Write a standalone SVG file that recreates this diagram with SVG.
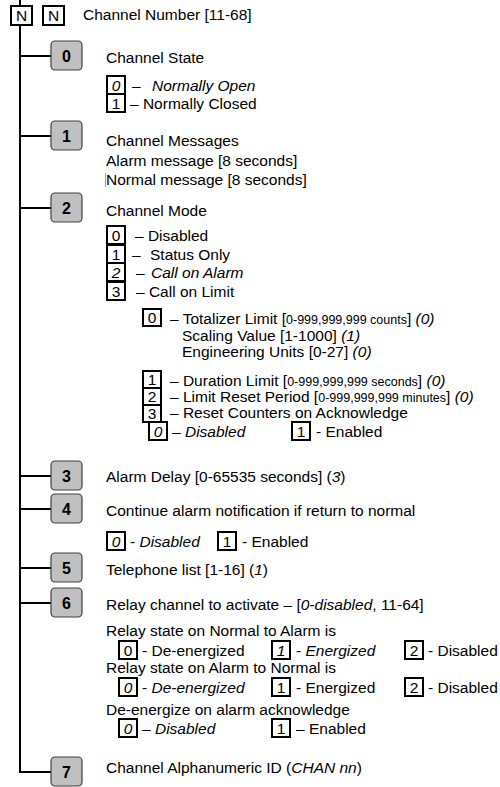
<svg xmlns="http://www.w3.org/2000/svg" width="500" height="787" viewBox="0 0 500 787">
<style>
text{font-family:"Liberation Sans",Arial,sans-serif;font-size:15.5px;fill:#000}
.i{font-style:italic}
.s{font-size:12.5px}
.nd rect{fill:#c0c0c0;stroke:#404040;stroke-width:1.2}
.nd text{font-weight:bold;font-size:16px;text-anchor:middle}
.b{fill:#fff;stroke:#000;stroke-width:2}
.bt{text-anchor:middle}
.c{stroke:#000;stroke-width:2;fill:none}
</style>
<g id="connectors">
<line class="c" x1="20" y1="0" x2="20" y2="773"/>
<line class="c" x1="19" y1="56" x2="51" y2="56"/>
<line class="c" x1="19" y1="136" x2="51" y2="136"/>
<line class="c" x1="19" y1="208" x2="51" y2="208"/>
<line class="c" x1="19" y1="476" x2="51" y2="476"/>
<line class="c" x1="19" y1="509" x2="51" y2="509"/>
<line class="c" x1="19" y1="568" x2="51" y2="568"/>
<line class="c" x1="19" y1="603" x2="51" y2="603"/>
<line class="c" x1="19" y1="772" x2="51" y2="772"/>
</g>
<g id="header">
<rect class="b" x="11" y="6" width="21" height="19"/><text class="bt" x="21.5" y="21">N</text>
<rect class="b" x="43" y="6" width="21" height="19"/><text class="bt" x="53.5" y="21">N</text>
<text x="83" y="20">Channel Number [11-68]</text>
</g>
<g id="node0" class="nd"><rect x="51" y="41" width="31" height="29" rx="4"/><text x="66.5" y="62">0</text></g>
<g id="node1" class="nd"><rect x="51" y="121" width="31" height="29" rx="4"/><text x="66.5" y="142">1</text></g>
<g id="node2" class="nd"><rect x="51" y="193" width="31" height="29" rx="4"/><text x="66.5" y="214">2</text></g>
<g id="node3" class="nd"><rect x="51" y="461" width="31" height="29" rx="4"/><text x="66.5" y="482">3</text></g>
<g id="node4" class="nd"><rect x="51" y="494" width="31" height="29" rx="4"/><text x="66.5" y="515">4</text></g>
<g id="node5" class="nd"><rect x="51" y="553" width="31" height="29" rx="4"/><text x="66.5" y="574">5</text></g>
<g id="node6" class="nd"><rect x="51" y="588" width="31" height="29" rx="4"/><text x="66.5" y="609">6</text></g>
<g id="node7" class="nd"><rect x="51" y="757" width="31" height="29" rx="4"/><text x="66.5" y="778">7</text></g>

<g id="text0">
<text x="106" y="63">Channel State</text>
<rect class="b" x="107" y="76" width="18" height="18"/><text class="bt i" x="116" y="91">0</text>
<text x="132" y="91">–</text><text class="i" x="152" y="91">Normally Open</text>
<rect class="b" x="107" y="94" width="18" height="18"/><text class="bt" x="116" y="109">1</text>
<text x="130" y="109">– Normally Closed</text>
</g>
<g id="text1">
<text x="106" y="146">Channel Messages</text>
<text x="106" y="166">Alarm message [8 seconds]</text>
<line x1="105.5" y1="173" x2="105.5" y2="187" stroke="#888" stroke-width="0.8"/>
<text x="106" y="185">Normal message [8 seconds]</text>
</g>
<g id="text2">
<text x="106" y="216">Channel Mode</text>
<rect class="b" x="107" y="226" width="18" height="18"/><text class="bt" x="116" y="241">0</text>
<text x="135" y="241">– Disabled</text>
<rect class="b" x="107" y="245" width="18" height="18"/><text class="bt" x="116" y="260">1</text>
<text x="132" y="260">–</text><text x="150" y="260">Status Only</text>
<rect class="b" x="107" y="263" width="18" height="18"/><text class="bt i" x="116" y="278">2</text>
<text x="136" y="278">–</text><text class="i" x="151" y="278">Call on Alarm</text>
<rect class="b" x="107" y="282" width="18" height="18"/><text class="bt" x="116" y="297">3</text>
<text x="136" y="297">– Call on Limit</text>
<rect class="b" x="143" y="309" width="18" height="17"/><text class="bt" x="152" y="323">0</text>
<text x="170" y="324">– Totalizer Limit [<tspan class="s">0-999,999,999 counts</tspan>] <tspan class="i">(0)</tspan></text>
<text x="182" y="341">Scaling Value [1-1000] <tspan class="i">(1)</tspan></text>
<text x="182" y="357">Engineering Units [0-27] <tspan class="i">(0)</tspan></text>
<rect class="b" x="143" y="371" width="18" height="17"/><text class="bt" x="152" y="385">1</text>
<text x="170" y="386">– Duration Limit [<tspan class="s">0-999,999,999 seconds</tspan>] <tspan class="i">(0)</tspan></text>
<rect class="b" x="143" y="388" width="18" height="17"/><text class="bt" x="152" y="402">2</text>
<text x="170" y="402">– Limit Reset Period [<tspan class="s">0-999,999,999 minutes</tspan>] <tspan class="i">(0)</tspan></text>
<rect class="b" x="143" y="405" width="18" height="17"/><text class="bt" x="152" y="419">3</text>
<text x="170" y="418">– Reset Counters on Acknowledge</text>
<rect class="b" x="149" y="422" width="18" height="18"/><text class="bt i" x="158" y="437">0</text>
<text x="172" y="437">– <tspan class="i">Disabled</tspan></text>
<rect class="b" x="292" y="422" width="18" height="18"/><text class="bt" x="301" y="437">1</text>
<text x="316" y="437">- Enabled</text>
</g>
<g id="text3">
<text x="106" y="482">Alarm Delay [0-65535 seconds] (<tspan class="i">3</tspan>)</text>
</g>
<g id="text4">
<text x="106" y="516">Continue alarm notification if return to normal</text>
<rect class="b" x="107" y="532" width="18" height="18"/><text class="bt i" x="116" y="547">0</text>
<text x="130" y="547">- <tspan class="i">Disabled</tspan></text>
<rect class="b" x="218" y="532" width="18" height="18"/><text class="bt" x="227" y="547">1</text>
<text x="242" y="547">- Enabled</text>
</g>
<g id="text5">
<text x="106" y="575">Telephone list [1-16] (<tspan class="i">1</tspan>)</text>
</g>
<g id="text6">
<text x="106" y="610">Relay channel to activate – [<tspan class="i">0-disabled</tspan>, 11-64]</text>
<text x="106" y="636">Relay state on Normal to Alarm is</text>
<rect class="b" x="119" y="641" width="18" height="18"/><text class="bt" x="128" y="656">0</text>
<text x="142" y="656">- De-energized</text>
<rect class="b" x="272" y="641" width="18" height="18"/><text class="bt i" x="281" y="656">1</text>
<text x="296" y="656">- <tspan class="i">Energized</tspan></text>
<rect class="b" x="405" y="641" width="18" height="18"/><text class="bt" x="414" y="656">2</text>
<text x="428" y="656">- Disabled</text>
<text x="106" y="673">Relay state on Alarm to Normal is</text>
<rect class="b" x="119" y="678" width="18" height="18"/><text class="bt i" x="128" y="693">0</text>
<text x="142" y="693">- <tspan class="i">De-energized</tspan></text>
<rect class="b" x="272" y="678" width="18" height="18"/><text class="bt" x="281" y="693">1</text>
<text x="296" y="693">- Energized</text>
<rect class="b" x="405" y="678" width="18" height="18"/><text class="bt" x="414" y="693">2</text>
<text x="428" y="693">- Disabled</text>
<text x="106" y="715">De-energize on alarm acknowledge</text>
<rect class="b" x="119" y="719" width="18" height="18"/><text class="bt i" x="128" y="734">0</text>
<text x="142" y="734">– <tspan class="i">Disabled</tspan></text>
<rect class="b" x="272" y="719" width="18" height="18"/><text class="bt" x="281" y="734">1</text>
<text x="296" y="734">– Enabled</text>
</g>
<g id="text7">
<text x="106" y="773">Channel Alphanumeric ID  (<tspan class="i">CHAN nn</tspan>)</text>
</g>
</svg>
